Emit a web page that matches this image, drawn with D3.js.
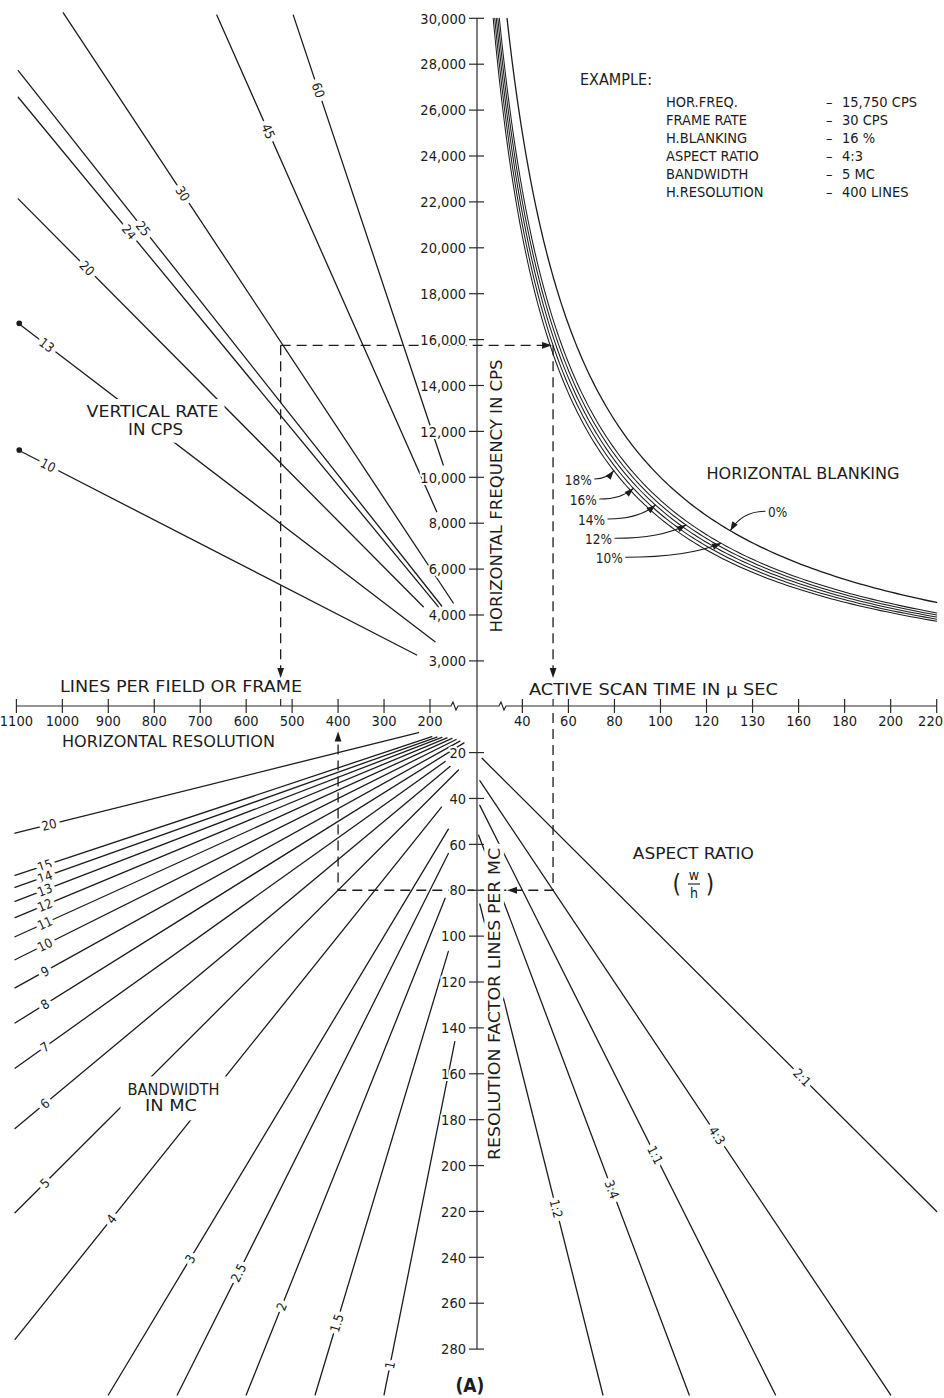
<!DOCTYPE html>
<html><head><meta charset="utf-8"><title>Television scanning nomogram</title>
<script src="https://cdn.jsdelivr.net/npm/d3@7/dist/d3.min.js"></script>
<style>
html,body{margin:0;padding:0;background:#fff;}
svg{display:block;}
text{font-family:"DejaVu Sans Condensed","DejaVu Sans",sans-serif;fill:#1c1c1c;}
</style></head><body>
<svg id="chart" width="944" height="1398" viewBox="0 0 944 1398"></svg>
<script>
// ---------------- DATA ----------------
// upper vertical axis: horizontal frequency (cps); the lowest printed label reads "3,000"
const freqTickValues=[2000,4000,6000,8000,10000,12000,14000,16000,18000,20000,22000,24000,26000,28000,30000];
const freqTickLabels=["3,000","4,000","6,000","8,000","10,000","12,000","14,000","16,000","18,000","20,000","22,000","24,000","26,000","28,000","30,000"];
// left horizontal axis: lines per field/frame = horizontal resolution
const lineTickValues=[1100,1000,900,800,700,600,500,400,300,200];
// right horizontal axis: active scan time (micro-seconds)
const scanTickValues=[40,60,80,100,120,140,160,180,200,220];
const scanTickLabels=["40","60","80","100","120","130","160","180","200","220"];
// lower vertical axis: resolution factor (lines per MC)
const resTickValues=[20,40,60,80,100,120,140,160,180,200,220,240,260,280];

// vertical-rate lines (lines, cps at each end)
const vertRateLabels=["10","13","20","24","25","30","45","60"];
const vertStartLines=[1096,1096,1096,1096,1096,998,664,497.5];
const vertStartFreq=[11190,16710,22130,26560,27720,30240,30140,30140];
const vertEndLines=[229,189,214.6,182,174.5,149.3,185.4,171.1];
const vertEndFreq=[2257,2837,4362,4362,4392,4523,8501,10536];
const vertLabelLines=[1031,1034,946,854,824,738,552,443];

// horizontal blanking curves (percent)
const blankingPct=[0,10,12,14,16,18];
const blankingLabels=["0%","10%","12%","14%","16%","18%"];
const blankingArrowFreq=[7673,7124,7922,8793,9521,10288];

// bandwidth lines (MC): resolution = bandwidth x resolution factor
const bandwidthValues=[20,15,14,13,12,11,10,9,8,7,6,5,4,3,2.5,2,1.5,1];
const bandwidthLabels=["20","15","14","13","12","11","10","9","8","7","6","5","4","3","2.5","2","1.5","1"];
const bandwidthEndRes=[225,196,185,174,163,152,143,135,126,167,156,138,175,160,160,167,160,146];
const bandwidthLabelRes=[1029,1038,1038,1038,1038,1038,1038,1038,1038,1038,1038,1038,893,722,617,523,403,287];
const maxLines=1103, maxResFactor=300;

// aspect ratio lines: resolution factor = 2 x scan time / aspect
const aspectLabels=["2:1","4:3","1:1","3:4","1:2"];
const aspectRatios=[2,4/3,1,3/4,1/2];
const aspectStartScan=[22.5,21.5,21.5,21,21.5];
const aspectLabelScan=[161.6,124.6,97.7,78.9,54.7];

// worked example
const exampleLabels=["HOR.FREQ.","FRAME RATE","H.BLANKING","ASPECT RATIO","BANDWIDTH","H.RESOLUTION"];
const exampleValues=["15,750 CPS","30 CPS","16 %","4:3","5 MC","400 LINES"];
const exHorFreq=15750, exFrameRate=30, exBlanking=16, exAspect=4/3, exBandwidth=5;

// ---------------- DRAWING ----------------
const svg=d3.select("#chart");
const AX=477, AY=706;
const INK="#1c1c1c";
const xL=d3.scaleLinear().domain([0,1100]).range([521.9,16.4]);
const yH=d3.scaleLinear().domain([0,30000]).range([706.8,18.3]);
const xT=d3.scaleLinear().domain([0,220]).range([430.3,936.7]);
const yF=d3.scaleLinear().domain([0,280]).range([706.7,1349.1]);
const DEG=180/Math.PI;

const gLines=svg.append("g").attr("fill","none").attr("stroke",INK).attr("stroke-width",1.3).attr("stroke-linecap","round");
const gDash=svg.append("g").attr("fill","none").attr("stroke",INK).attr("stroke-width",1.3).attr("stroke-dasharray","10,6");
const gAxis=svg.append("g").attr("fill","none").attr("stroke","#2a2a2a").attr("stroke-width",1.2);
const gText=svg.append("g");
const gArrow=svg.append("g");

function arrowHead(x,y,ang,len=10,w=3.4){
  const bx=x-len*Math.cos(ang), by=y-len*Math.sin(ang);
  const nx=-Math.sin(ang)*w, ny=Math.cos(ang)*w;
  gArrow.append("path").attr("d",`M${x},${y}L${bx+nx},${by+ny}L${bx-nx},${by-ny}Z`).attr("fill",INK);
}
function label(txt,x,y,o={}){
  const t=gText.append("text").attr("x",x).attr("y",y).attr("dy",o.dy||"0.36em")
    .attr("text-anchor",o.anchor||"middle").attr("font-size",o.size||14).text(txt);
  if(o.rotate) t.attr("transform",`rotate(${o.rotate},${x},${y})`);
  if(o.halo) t.attr("stroke","#fff").attr("stroke-width",o.halo).attr("paint-order","stroke").attr("stroke-linejoin","round");
  if(o.len) t.attr("textLength",o.len).attr("lengthAdjust","spacingAndGlyphs");
  if(o.weight) t.attr("font-weight",o.weight);
  return t;
}
// white box behind a multi-line caption so the lines it sits on are broken around it
function captionBox(texts,pad){
  let x0=1e9,y0=1e9,x1=-1e9,y1=-1e9;
  texts.forEach(t=>{const b=t.node().getBBox();x0=Math.min(x0,b.x);y0=Math.min(y0,b.y);x1=Math.max(x1,b.x+b.width);y1=Math.max(y1,b.y+b.height);});
  gText.insert("rect",":first-child").attr("x",x0-pad).attr("y",y0-pad+2).attr("width",x1-x0+2*pad).attr("height",y1-y0+2*pad-4).attr("fill","#fff");
}

// vertical-rate lines
vertRateLabels.forEach((lab,i)=>{
  const x0=xL(vertStartLines[i]), y0=yH(vertStartFreq[i]);
  const x1=xL(vertEndLines[i]), y1=yH(vertEndFreq[i]);
  gLines.append("line").attr("x1",x0).attr("y1",y0).attr("x2",x1).attr("y2",y1);
  if(lab==="10"||lab==="13") gLines.append("circle").attr("cx",x0+1).attr("cy",y0).attr("r",2.2).attr("fill",INK);
  const t=(vertLabelLines[i]-vertStartLines[i])/(vertEndLines[i]-vertStartLines[i]);
  const lx=xL(vertLabelLines[i]);
  const ly=yH(vertStartFreq[i]+t*(vertEndFreq[i]-vertStartFreq[i]));
  const ang=Math.atan2(y1-y0,x1-x0)*DEG;
  label(lab,lx,ly,{rotate:ang,halo:9,size:13});
});

// blanking curves
const curve=d3.line();
blankingPct.forEach(b=>{
  const k=(1-b/100)*1e6;
  const hTop=30000, hBot=k/220;
  const pts=d3.range(0,161).map(j=>{const h=hTop*Math.pow(hBot/hTop,j/160);return [xT(k/h),yH(h)];});
  gLines.append("path").attr("d",curve(pts)).attr("stroke-width",b===0?1.3:1.05);
});

// bandwidth lines
bandwidthValues.forEach((bw,i)=>{
  const r0=Math.min(maxLines,bw*maxResFactor), r1=bandwidthEndRes[i];
  const x0=xL(r0), y0=yF(r0/bw), x1=xL(r1), y1=yF(r1/bw);
  gLines.append("line").attr("x1",x0).attr("y1",y0).attr("x2",x1).attr("y2",y1);
  const rl=bandwidthLabelRes[i];
  const ang=Math.atan2(y1-y0,x1-x0)*DEG;
  label(bandwidthLabels[i],xL(rl),yF(rl/bw),{rotate:ang,halo:8,size:13});
});

// aspect-ratio lines
aspectRatios.forEach((a,i)=>{
  const t0=aspectStartScan[i], t1=Math.min(220,maxResFactor*a/2);
  const x0=xT(t0), y0=yF(2*t0/a), x1=xT(t1), y1=yF(2*t1/a);
  gLines.append("line").attr("x1",x0).attr("y1",y0).attr("x2",x1).attr("y2",y1);
  const tl=aspectLabelScan[i];
  const ang=Math.atan2(y1-y0,x1-x0)*DEG;
  label(aspectLabels[i],xT(tl),yF(2*tl/a),{rotate:ang,halo:9,size:13});
});

// worked example (dashed path)
const exLines=exHorFreq/exFrameRate;
const exScan=(1-exBlanking/100)*1e6/exHorFreq;
const exRF=2*exScan/exAspect;
const exRes=exBandwidth*exRF;
const px1=xL(exLines), py1=yH(exHorFreq), px2=xT(exScan), py2=yF(exRF), px3=xL(exRes);
gDash.append("path").attr("d",`M${px1},${py1}H${px2-9}`);
arrowHead(px2-1,py1,0);
gDash.append("path").attr("d",`M${px1},${py1}V669`);
arrowHead(px1,678,Math.PI/2);
gDash.append("path").attr("d",`M${px2},${py1}V669`);
arrowHead(px2,678,Math.PI/2);
gDash.append("path").attr("d",`M${px2},${AY+7}V${py2}H${px3}V741`);
arrowHead(AX+30,py2,Math.PI);
arrowHead(px3,731.5,-Math.PI/2);
gAxis.append("path").attr("d",`M${px1},${AY-7}V${AY}M${px2},${AY-7}V${AY}`);

// axes
gAxis.append("path").attr("d",`M${AX},${yH(30000)}V${yF(280)}`);
gAxis.append("path").attr("d",`M${xL(1100)},${AY}H451l2,-4l3,8l2,-4H499l2,-4l3,8l2,-4H${xT(220)}`);
freqTickValues.forEach((v,i)=>{
  gAxis.append("path").attr("d",`M${AX-8},${yH(v)}H${AX+7}`);
  label(freqTickLabels[i],AX-11,yH(v),{anchor:"end",halo:4,size:14.5});
});
resTickValues.forEach(v=>{
  gAxis.append("path").attr("d",`M${AX-8},${yF(v)}H${AX+7}`);
  label(String(v),AX-11,yF(v),{anchor:"end",halo:4,size:14.5});
});
lineTickValues.forEach(v=>{
  gAxis.append("path").attr("d",`M${xL(v)},${AY-7}V${AY+7}`);
  label(String(v),xL(v),AY+15,{halo:3,size:14.5});
});
scanTickValues.forEach((v,i)=>{
  gAxis.append("path").attr("d",`M${xT(v)},${AY-7}V${AY+7}`);
  const last=i===scanTickValues.length-1;
  label(scanTickLabels[i],last?943:xT(v),AY+15,{halo:3,size:14.5,anchor:last?"end":"middle"});
});

// axis titles (white background cuts the lines they cross)
label("HORIZONTAL FREQUENCY IN CPS",497,496,{rotate:-90,len:273,halo:5,size:15});
label("RESOLUTION FACTOR LINES PER MC",495,1004,{rotate:-90,len:312,halo:8,size:15});
label("LINES PER FIELD OR FRAME",60,687,{anchor:"start",len:242,size:15});
label("HORIZONTAL RESOLUTION",62,741.7,{anchor:"start",len:213,size:15});
label("ACTIVE SCAN TIME IN μ SEC",529,690,{anchor:"start",len:249,size:15});
const vr1=label("VERTICAL RATE",152.5,411.7,{len:132,size:15});
const vr2=label("IN CPS",155.5,429.3,{len:55,size:15});
captionBox([vr1,vr2],6);
const bw1=label("BANDWIDTH",173.5,1090,{len:92,size:15});
const bw2=label("IN MC",171,1106,{len:52,size:15});
captionBox([bw1,bw2],7);
label("ASPECT RATIO",693.3,854,{len:121,size:15});
label("(",676.7,884,{size:24,dy:"0.33em"});
label(")",710,884,{size:24,dy:"0.33em"});
label("w",694,875,{size:14});
label("h",694,893,{size:14});
gAxis.append("path").attr("d","M688,884H700");
label("HORIZONTAL BLANKING",803,473.3,{len:193,size:15});
label("(A)",470,1385,{size:19,weight:"bold"});

// blanking annotations with curved arrows
const blankText=[[768,512.3,"start"],[622.7,558.3,"end"],[612,539.3,"end"],[605,520,"end"],[596.7,500,"end"],[591.7,480,"end"]];
blankingPct.forEach((b,i)=>{
  const k=(1-b/100)*1e6, h=blankingArrowFreq[i];
  const tx=xT(k/h), ty=yH(h);
  const [lx,ly,anc]=blankText[i];
  label(blankingLabels[i],lx,ly,{anchor:anc,size:13.5});
  const sx=anc==="start"?lx-3:lx+3, sy=ly-1;
  const cx=anc==="start"?tx+12:tx-0.35*(tx-sx), cy=sy;
  gLines.append("path").attr("d",`M${sx},${sy}Q${cx},${cy} ${tx},${ty}`).attr("stroke-width",1.1);
  arrowHead(tx,ty,Math.atan2(ty-cy,tx-cx),9,3.2);
});

// example text block
label("EXAMPLE:",580,80,{anchor:"start",len:72,size:15});
exampleLabels.forEach((s,i)=>{
  const y=102+18*i;
  label(s,666,y,{anchor:"start",size:14.5});
  label("–",826,y,{anchor:"start",size:14.5});
  label(exampleValues[i],842,y,{anchor:"start",size:14.5});
});
</script>
</body></html>
